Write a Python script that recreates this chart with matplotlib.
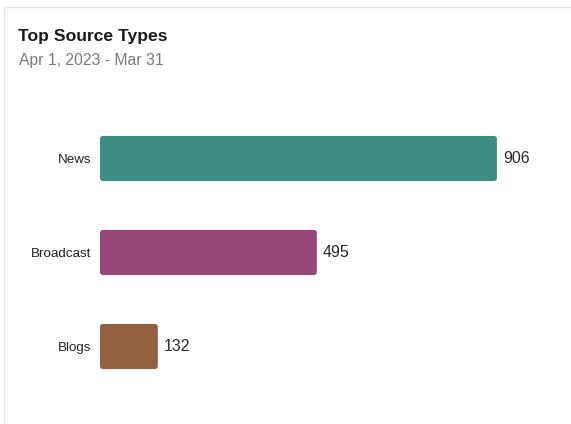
import matplotlib.pyplot as plt
from matplotlib.patches import FancyBboxPatch, Rectangle

categories = ["News", "Broadcast", "Blogs"]
counts = [906, 495, 132]
colors = ["#3e8d83", "#974878", "#93613f"]

plt.rcParams['font.family'] = ['Liberation Sans', 'DejaVu Sans']

fig = plt.figure(figsize=(5.71, 4.24), dpi=100)

# card outline
fig.patches.append(Rectangle((4 / 571, -0.01), 1.0, 1 - 7 / 424 + 0.01, transform=fig.transFigure,
                             fill=False, edgecolor="#e6e6e6", linewidth=1.0))

fig.text(18 / 571, 1 - 36 / 424, "Top Source Types", fontsize=12.6, fontweight="bold",
         color="#1a1a1a", va="center", ha="left")
fig.text(19 / 571, 1 - 60 / 424, "Apr 1, 2023 - Mar 31", fontsize=11.3,
         color="#7a7a7a", va="center", ha="left")

ax = fig.add_axes([100 / 571, (424 - 393.5) / 424, 460 / 571, 282 / 424])
ax.set_xlim(0, 1050)
ax.set_ylim(2.5, -0.5)

bars = ax.barh(range(len(categories)), counts, height=0.48, color=colors)
# replace with slightly rounded bars
xpp = 1050 / 460
ypp = 3 / 282
for b, c in zip(bars, colors):
    b.set_visible(False)
    r = 3 * xpp
    ax.add_patch(FancyBboxPatch((b.get_x(), b.get_y()), b.get_width(), b.get_height(),
                                boxstyle=f"round,pad=0,rounding_size={r}",
                                mutation_aspect=ypp / xpp, facecolor=c, edgecolor="none"))

for i, v in enumerate(counts):
    ax.text(v + 6 * xpp, i, str(v), va="center", ha="left", fontsize=11.5, color="#2a2a2a")

ax.set_yticks(range(len(categories)))
ax.set_yticklabels(categories, fontsize=9.6, color="#222222")
ax.tick_params(axis="y", length=0, pad=6.5)
ax.set_xticks([])
for s in ax.spines.values():
    s.set_visible(False)

fig.savefig("out.png", dpi=100)
